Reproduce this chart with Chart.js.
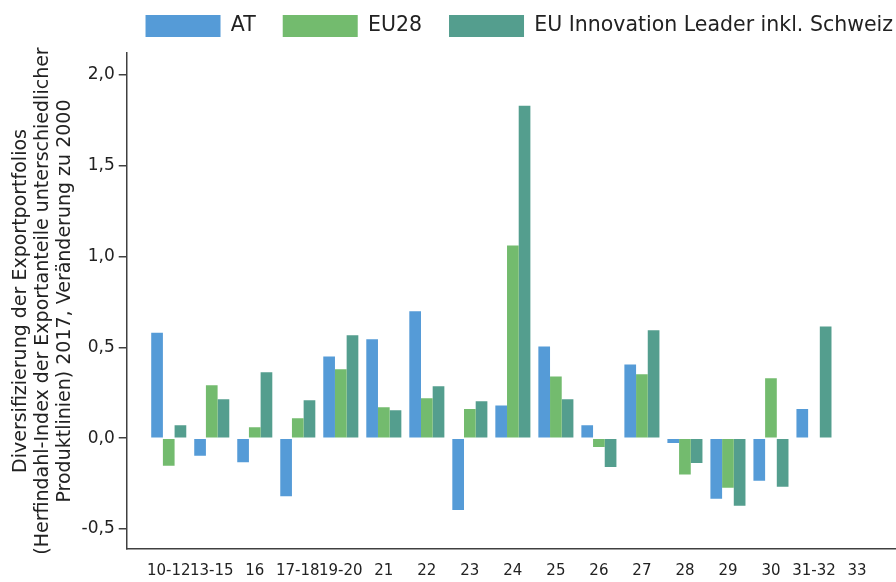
<!DOCTYPE html>
<html>
<head>
<meta charset="utf-8">
<script src="https://cdn.jsdelivr.net/npm/chart.js@4.4.1/dist/chart.umd.min.js"></script>
<style>
  html, body { margin: 0; padding: 0; background: #fff; }
  #wrap { width: 896px; height: 582px; }
</style>
</head>
<body>
<div id="wrap"><canvas id="chart"></canvas></div>
<script>
// Branchen (NACE-Abteilungen)
const branchen = ["10-12","13-15","16","17-18","19-20","21","22","23","24","25","26","27","28","29","30","31-32","33"];
// Veränderung des Herfindahl-Index 2017 zu 2000
const atWerte     = [0.58, -0.097, -0.132, -0.319, 0.45, 0.544, 0.698, -0.396, 0.18, 0.505, 0.071, 0.406, -0.026, -0.334, -0.235, 0.16, null];
const eu28Werte   = [-0.152, 0.291, 0.06, 0.11, 0.379, 0.17, 0.22, 0.16, 1.06, 0.34, -0.048, 0.352, -0.2, -0.273, 0.33, -0.005, null];
const leaderWerte = [0.071, 0.214, 0.363, 0.209, 0.566, 0.154, 0.286, 0.203, 1.83, 0.214, -0.158, 0.594, -0.136, -0.372, -0.267, 0.615, null];
const yTicks = [-0.5, 0, 0.5, 1, 1.5, 2];

const FONT = "'DejaVu Sans', sans-serif";
const AXIS = "#404040";

// linear x-Achse, damit links/rechts etwas Luft bleibt wie im Original
const toPoints = arr => arr.map((v, i) => ({ x: i, y: v }));

// Legende etwas nach rechts schieben und Abstand zum Plot vergrößern
const legendTweak = {
  id: "legendTweak",
  beforeLayout(chart) {
    const lg = chart.legend;
    if (lg && !lg._patched) {
      const fit = lg.fit.bind(lg);
      lg.fit = function () { fit(); this.height += 6; };
      lg._patched = true;
    }
  },
  afterLayout(chart) {
    const lg = chart.legend;
    if (lg) { lg.left += 24; lg.right += 24; }
  }
};

const ctx = document.getElementById("chart").getContext("2d");
new Chart(ctx, {
  type: "bar",
  data: {
    datasets: [
      { label: "AT", data: toPoints(atWerte), backgroundColor: "#559bd7" },
      { label: "EU28", data: toPoints(eu28Werte), backgroundColor: "#73bb6e" },
      { label: "EU Innovation Leader inkl. Schweiz", data: toPoints(leaderWerte), backgroundColor: "#549e8e" }
    ]
  },
  plugins: [legendTweak],
  options: {
    responsive: true,
    maintainAspectRatio: false,
    animation: false,
    layout: { padding: { top: -12, right: 0, bottom: -11, left: 6 } },
    datasets: { bar: { categoryPercentage: 0.815, barPercentage: 1.0 } },
    plugins: {
      legend: {
        position: "top",
        align: "end",
        labels: {
          boxWidth: 75,
          boxHeight: 22,
          padding: 27,
          color: "#222",
          font: { family: FONT, size: 20.5 }
        }
      },
      tooltip: { enabled: false }
    },
    scales: {
      x: {
        type: "linear",
        offset: false,
        min: -0.977,
        max: 16.907,
        afterBuildTicks: (axis) => { axis.ticks = branchen.map((_, i) => ({ value: i })); },
        ticks: {
          autoSkip: false,
          maxRotation: 0,
          minRotation: 0,
          padding: 13,
          color: "#222",
          font: { family: FONT, size: 15 },
          callback: (v) => branchen[v] ?? ""
        },
        grid: { display: true, drawOnChartArea: false, drawTicks: false },
        border: { display: true, color: AXIS, width: 1.5 }
      },
      y: {
        min: -0.61,
        max: 2.12,
        afterBuildTicks: (axis) => { axis.ticks = yTicks.map(v => ({ value: v })); },
        ticks: {
          color: "#222",
          padding: 4,
          font: { family: FONT, size: 17 },
          callback: (v) => v.toFixed(1).replace(".", ",")
        },
        grid: { display: true, drawOnChartArea: false, drawTicks: true, tickLength: 8, color: AXIS, lineWidth: 1.5 },
        border: { display: true, color: AXIS, width: 1.5 },
        title: {
          display: true,
          text: [
            "Diversifizierung der Exportportfolios",
            "(Herfindahl-Index der Exportanteile unterschiedlicher",
            "Produktlinien) 2017, Veränderung zu 2000"
          ],
          color: "#222",
          font: { family: FONT, size: 19, lineHeight: 1.15 },
          padding: { top: 4, bottom: 2 }
        }
      }
    }
  }
});
</script>
</body>
</html>
